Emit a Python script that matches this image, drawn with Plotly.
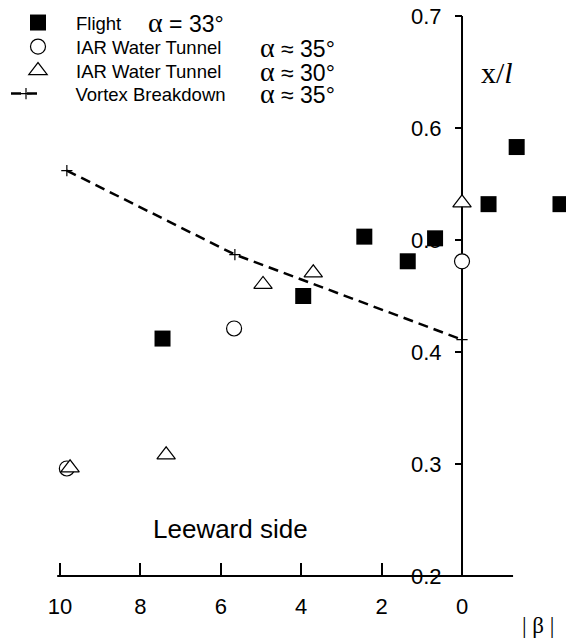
import plotly.graph_objects as go

# Sideslip |beta| (deg) and breakdown location x/l
flight_beta = [7.45, 3.95, 2.43, 1.35, 0.67, -0.66, -1.36, -2.45]
flight_xl = [0.412, 0.450, 0.503, 0.481, 0.5015, 0.532, 0.583, 0.532]

tunnel35_beta = [9.83, 5.67, 0.0]
tunnel35_xl = [0.296, 0.421, 0.481]

tunnel30_beta = [9.75, 7.36, 4.95, 3.70, 0.0]
tunnel30_xl = [0.2966, 0.3082, 0.4603, 0.4707, 0.5332]

breakdown_beta = [9.83, 5.65, 0.0]
breakdown_xl = [0.562, 0.487, 0.411]

series_names = ["Flight", "IAR Water Tunnel", "IAR Water Tunnel", "Vortex Breakdown"]
series_alpha = ["α = 33°", "α ≈ 35°", "α ≈ 30°", "α ≈ 35°"]

beta_ticks = [10, 8, 6, 4, 2, 0]
beta_ticktext = ["10", "8", "6", "4", "2", "0"]
xl_ticks = [0.2, 0.3, 0.4, 0.5, 0.6, 0.7]
xl_ticktext = ["0.2", "0.3", "0.4", "0.5", "0.6", "0.7"]

SANS = "Liberation Sans, Arial, sans-serif"
SERIF = "Liberation Serif, Times New Roman, serif"

W, H = 566, 640
X_RANGE = [11.493, -2.587]
Y_RANGE = [0.142857, 0.714286]
y_axis_pos = (X_RANGE[0] - 0.0) / (X_RANGE[0] - X_RANGE[1])
x_axis_pos = (0.2 - Y_RANGE[0]) / (Y_RANGE[1] - Y_RANGE[0])

# one legend box per row so the key rows sit on a tight pitch
legend_ids = ["legend", "legend2", "legend3", "legend4"]
row_y = [23, 47, 71, 94]
legend_left = [0, 0, 0, 6]
legend_itemwidth = [66, 66, 66, 30]
alpha_x = [146, 258, 258, 258]

# the dashed key is shorter, so its label is padded to line up with the others
pad = "\u00a0" * 5 + "\u2009"

fig = go.Figure()

fig.add_trace(go.Scatter(
    x=breakdown_beta, y=breakdown_xl, mode="lines+markers", name=pad + series_names[3],
    line=dict(color="black", width=2.5, dash="10px,6px"),
    marker=dict(symbol="cross-thin", size=8, line=dict(color="black", width=1.2)),
    legend=legend_ids[3], cliponaxis=False,
))
fig.add_trace(go.Scatter(
    x=flight_beta, y=flight_xl, mode="markers", name=series_names[0],
    marker=dict(symbol="square", size=16, color="black", line=dict(width=0)),
    legend=legend_ids[0], cliponaxis=False,
))
fig.add_trace(go.Scatter(
    x=tunnel35_beta, y=tunnel35_xl, mode="markers", name=series_names[1],
    marker=dict(symbol="circle", size=15, color="white", line=dict(color="black", width=1.2)),
    legend=legend_ids[1], cliponaxis=False,
))
fig.add_trace(go.Scatter(
    x=tunnel30_beta, y=tunnel30_xl, mode="markers", name=series_names[2],
    marker=dict(symbol="triangle-up", size=16, color="white", line=dict(color="black", width=1.2)),
    legend=legend_ids[2], cliponaxis=False,
))

# axis lines, drawn only over the labelled spans
fig.add_shape(type="line", x0=10.07, x1=-1.27, y0=0.2, y1=0.2,
              line=dict(color="black", width=2), layer="below")
fig.add_shape(type="line", x0=0, x1=0, y0=0.2, y1=0.7,
              line=dict(color="black", width=2), layer="below")

annotations = [
    dict(text="x/<i>l</i>", x=497 / W, y=1 - 72 / H, font=dict(family=SERIF, size=30)),
    dict(text="| β |", x=538 / W, y=1 - 625 / H, font=dict(family=SERIF, size=23)),
    dict(text="Leeward side", x=230 / W, y=1 - 529 / H, font=dict(family=SANS, size=26)),
]
for txt, ax, ry in zip(series_alpha, alpha_x, row_y):
    a, rest = txt[0], txt[1:]
    annotations.append(dict(
        text=f"<span style=\"font-family:Liberation Serif;font-size:28px\">{a}</span>{rest}",
        x=ax / W, y=1 - ry / H, xanchor="left",
        font=dict(family=SANS, size=23),
    ))
for a in annotations:
    a.setdefault("xanchor", "center")
    a.update(xref="paper", yref="paper", yanchor="middle", showarrow=False)
    a["font"]["color"] = "black"

legend_layout = {}
for lid, ry, lx, iw in zip(legend_ids, row_y, legend_left, legend_itemwidth):
    legend_layout[lid] = dict(
        x=lx / W, y=1 - (ry - 19) / H, xanchor="left", yanchor="top",
        font=dict(family=SANS, size=18.5, color="black"),
        bgcolor="rgba(0,0,0,0)", tracegroupgap=0, itemwidth=iw,
    )

fig.update_layout(
    width=W, height=H,
    margin=dict(l=0, r=0, t=0, b=0),
    paper_bgcolor="white", plot_bgcolor="white",
    font=dict(family=SANS, color="black"),
    showlegend=True,
    annotations=annotations,
    xaxis=dict(
        range=X_RANGE, domain=[0, 1], anchor="free", position=x_axis_pos,
        showgrid=False, zeroline=False, showline=False,
        tickmode="array", tickvals=beta_ticks, ticktext=beta_ticktext,
        ticks="inside", ticklen=13, tickwidth=2, tickcolor="black",
        tickfont=dict(family=SANS, size=22, color="black"),
        ticklabelstandoff=15,
    ),
    yaxis=dict(
        range=Y_RANGE, domain=[0, 1], anchor="free", position=y_axis_pos,
        showgrid=False, zeroline=False, showline=False,
        tickmode="array", tickvals=xl_ticks, ticktext=xl_ticktext,
        ticks="outside", ticklen=7, tickwidth=2, tickcolor="black",
        tickfont=dict(family=SANS, size=22, color="black"),
        ticklabelstandoff=9, layer="below traces",
    ),
    **legend_layout,
)

fig.write_html("out.html")
